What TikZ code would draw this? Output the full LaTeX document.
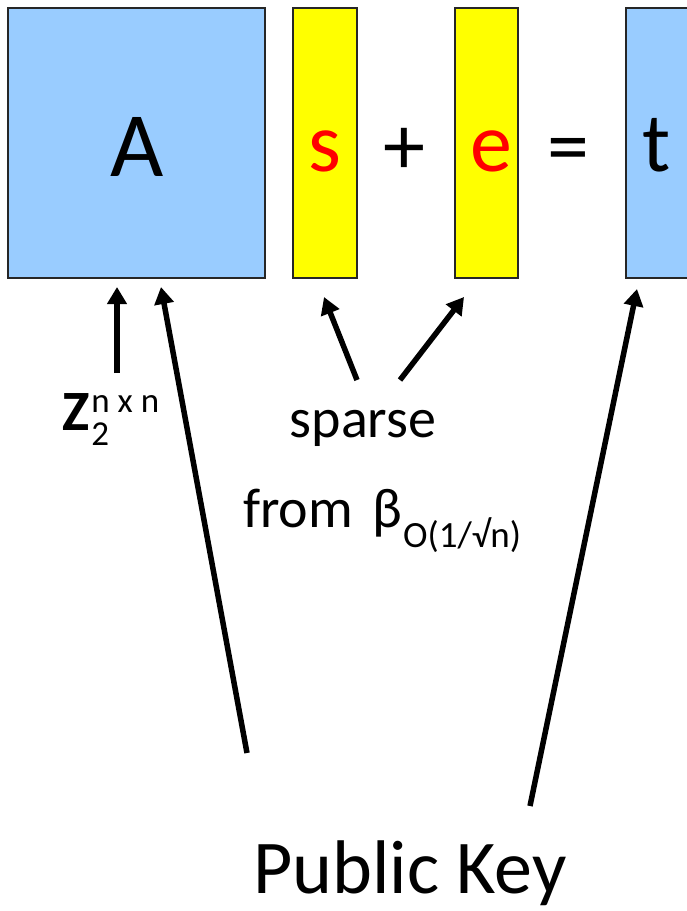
\documentclass[tikz,border=0pt]{standalone}
\usepackage{fontspec}
\setmainfont{Carlito}
\usetikzlibrary{arrows.meta}
\definecolor{boxblue}{HTML}{99CCFF}
\definecolor{boxyellow}{HTML}{FFFF00}
\definecolor{redtxt}{HTML}{FF0000}
\newcommand{\fs}[1]{\fontsize{#1}{#1}\selectfont}
\tikzset{
  mat/.style={draw=black!85, line width=2pt},
  arr/.style={line width=5.5pt, -{Triangle[length=17pt,width=19pt]}},
  lbl/.style={inner sep=0pt, anchor=base},
  lblw/.style={inner sep=0pt, anchor=base west},
}
\begin{document}
\begin{tikzpicture}[x=1pt,y=-1pt]
\clip (0,0) rectangle (687,911);
% boxes
\draw[mat, fill=boxblue] (8,8) rectangle (265,278);
\draw[mat, fill=boxyellow] (293,8) rectangle (357,278);
\draw[mat, fill=boxyellow] (455,8) rectangle (518,278);
\draw[mat, fill=boxblue] (626,8) rectangle (720,278);
% labels in boxes
\node[lbl] (A) at (137,176) {\fs{92}A};
\node[lbl, text=redtxt] (s) at (325,171) {\fs{84}s};
\node[lbl] (plus) at (404,174) {\fs{84}+};
\node[lbl, text=redtxt] (e) at (491,171) {\fs{84}e};
\node[lbl] (eq) at (568,174) {\fs{84}=};
\node[lbl] (t) at (657,171) {\fs{84}t};
% tip coordinates
\coordinate (tipZ) at (117,287);
\coordinate (tipPA) at (161,287);
\coordinate (tipS) at (324,297);
\coordinate (tipE) at (464,297);
\coordinate (tipT) at (637,289);
% labels below
\node[lblw] (Z) at (62,430) {{\fs{57}\textbf{Z}}\kern2pt{\fs{35}\rlap{\raisebox{18pt}{n x n}}\raisebox{-15pt}{2}}};
\coordinate (Zfoot) at (117,373);
\node[lbl] (sparse) at (363,437) {\fs{56}sparse};
\node[lblw] (from) at (243,527) {\fs{56}from};
\node[lblw] (beta) at (372,527) {\fs{56}β};
\node[lblw] (fromsub) at (403,547) {\fs{37}O(1/√n)};
\coordinate (sparseL) at (357,380);
\coordinate (sparseR) at (400,380);
\node[lbl] (pk) at (410,893) {\fs{76}Public Key};
\coordinate (pkL) at (247,753);
\coordinate (pkR) at (530,806);
% arrows
\draw[arr] (Zfoot) -- (tipZ);
\draw[arr] (pkL) -- (tipPA);
\draw[arr] (sparseL) -- (tipS);
\draw[arr] (sparseR) -- (tipE);
\draw[arr] (pkR) -- (tipT);
\end{tikzpicture}
\end{document}
